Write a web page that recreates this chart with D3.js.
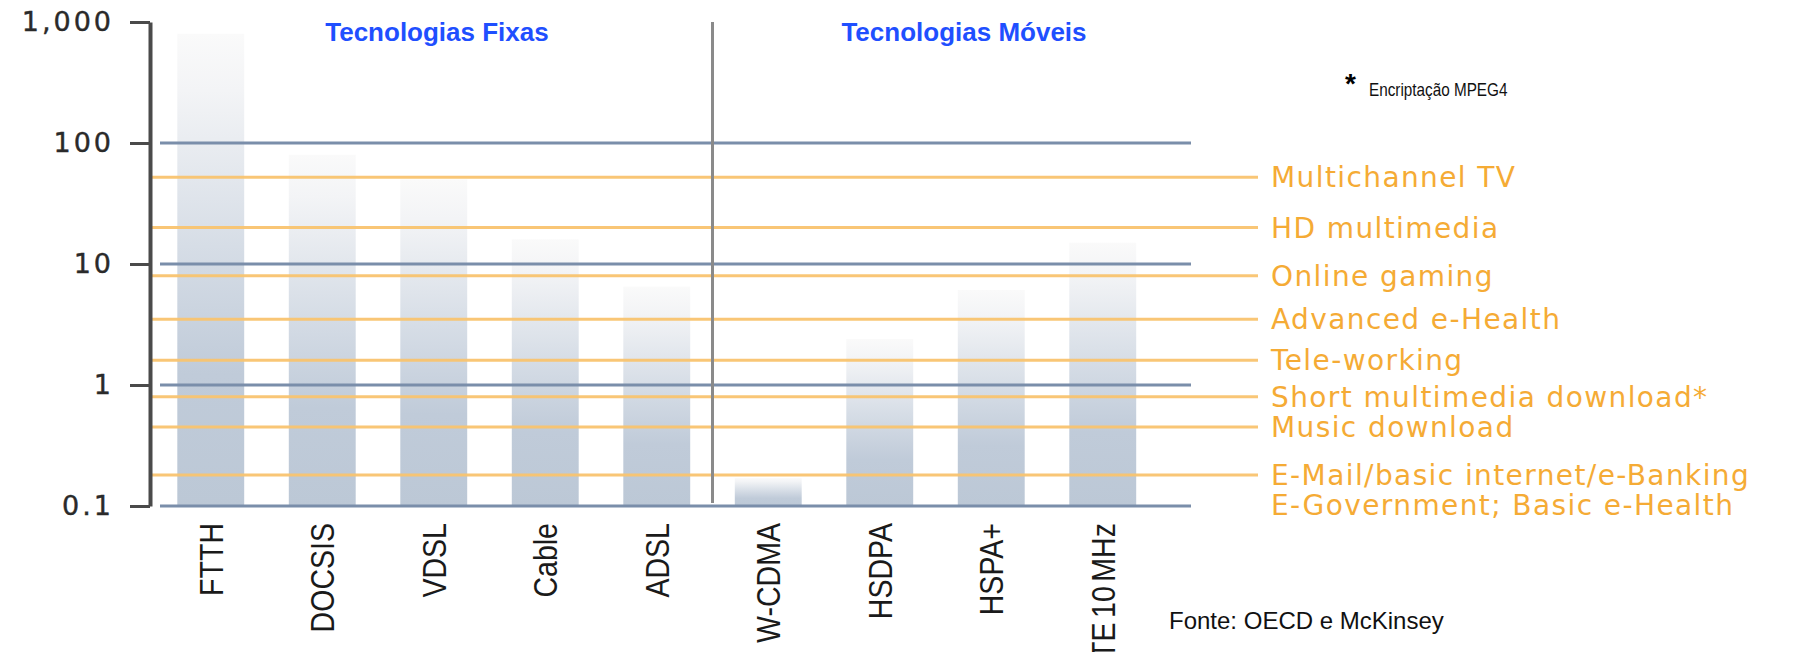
<!DOCTYPE html>
<html><head><meta charset="utf-8">
<script src="https://cdn.jsdelivr.net/npm/d3@7"></script>
<style>html,body{margin:0;padding:0;background:#fff;} svg{display:block}</style>
</head><body>
<svg id="chart" width="1809" height="652"></svg>
<script>
// ---- data ----
const categories = ["FTTH", "DOCSIS", "VDSL", "Cable", "ADSL", "W-CDMA", "HSDPA", "HSPA+", "LTE 10 MHz"];
const speeds = [800, 80, 50, 16, 6.5, 0.17, 2.4, 6.1, 15];
const fixedTechs = ["FTTH", "DOCSIS", "VDSL", "Cable", "ADSL"];
const mobileTechs = ["W-CDMA", "HSDPA", "HSPA+", "LTE 10 MHz"];
const groupTitles = ["Tecnologias Fixas", "Tecnologias Móveis"];
const tickValues = [1000, 100, 10, 1, 0.1];
const tickLabels = ["1,000", "100", "10", "1", "0.1"];
const services = ["Multichannel TV", "HD multimedia", "Online gaming", "Advanced e-Health", "Tele-working",
  "Short multimedia download*", "Music download", "E-Mail/basic internet/e-Banking"];
const serviceSecondLines = ["", "", "", "", "", "", "", "E-Government; Basic e-Health"];
const serviceSpeeds = [52, 20, 8, 3.5, 1.6, 0.8, 0.45, 0.18];
const footnoteMark = "*";
const footnoteText = "Encriptação MPEG4";
const sourceText = "Fonte: OECD e McKinsey";

// ---- layout ----
const svg = d3.select("#chart");
const axisX = 150, gridX0 = 160, gridX1 = 1191, orangeX1 = 1258;
const y = d3.scaleLog().domain([0.1, 1000]).range([506, 22]);
const x = d3.scaleBand().domain(categories).range([155, 1158.5]).paddingInner(0.4).paddingOuter(0.2);

const defs = svg.append("defs");
const grad = defs.append("linearGradient").attr("id", "barGrad")
  .attr("x1", 0).attr("y1", 0).attr("x2", 0).attr("y2", 1);
[[0, "#fafafa"], [0.12, "#f3f4f6"], [0.45, "#d6dde6"], [0.72, "#c0cbd9"], [1, "#bcc8d6"]]
  .forEach(([o, c]) => grad.append("stop").attr("offset", o).attr("stop-color", c));

// bars
svg.append("g").selectAll("rect").data(categories).join("rect")
  .attr("x", d => x(d))
  .attr("width", x.bandwidth())
  .attr("y", (d, i) => y(speeds[i]))
  .attr("height", (d, i) => y(0.1) - y(speeds[i]))
  .attr("fill", "url(#barGrad)");

// blue grid lines
svg.append("g").selectAll("line").data(tickValues.filter(v => v < 1000)).join("line")
  .attr("x1", gridX0).attr("x2", gridX1)
  .attr("y1", d => y(d)).attr("y2", d => y(d))
  .attr("stroke", "#7a8eaa").attr("stroke-width", 3);

// orange service lines
svg.append("g").selectAll("line").data(serviceSpeeds).join("line")
  .attr("x1", axisX).attr("x2", orangeX1)
  .attr("y1", d => y(d)).attr("y2", d => y(d))
  .attr("stroke", "#f9c46f").attr("stroke-width", 3).attr("opacity", 0.95);

// service labels
const sl = svg.append("g").attr("font-family", "DejaVu Sans, sans-serif")
  .attr("font-size", 28).attr("fill", "#f5ab35").attr("letter-spacing", 1.4);
services.forEach((s, i) => {
  sl.append("text").attr("x", 1271).attr("y", y(serviceSpeeds[i])).attr("dy", "0.36em").text(s);
  if (serviceSecondLines[i]) {
    sl.append("text").attr("x", 1271).attr("y", y(serviceSpeeds[i]) + 30).attr("dy", "0.36em").text(serviceSecondLines[i]);
  }
});

// y axis
const yAxis = d3.axisLeft(y).tickValues(tickValues)
  .tickFormat((d, i) => tickLabels[i]).tickSize(20).tickSizeOuter(0).tickPadding(16);
const ag = svg.append("g").attr("transform", `translate(${axisX},0)`).call(yAxis);
ag.select(".domain").attr("stroke", "#4a4a4a").attr("stroke-width", 4);
ag.selectAll(".tick line").attr("stroke", "#4a4a4a").attr("stroke-width", 3);
ag.selectAll(".tick text").attr("font-family", "DejaVu Sans, sans-serif").attr("font-size", 27)
  .attr("fill", "#2a2a2a").attr("letter-spacing", 3).attr("stroke", "#2a2a2a").attr("stroke-width", 0.4);

// category labels (rotated)
svg.append("g").selectAll("text").data(categories).join("text")
  .attr("transform", d => `translate(${x(d) + x.bandwidth() / 2},523) rotate(-90) scale(0.84,1)`)
  .attr("text-anchor", "end").attr("dy", "0.36em").attr("word-spacing", -4)
  .attr("font-family", "Liberation Sans, Arial, sans-serif").attr("font-size", 34)
  .attr("fill", "#1a1a1a").text(d => d);

// separator between fixed and mobile
const sepX = (x(fixedTechs[fixedTechs.length - 1]) + x.bandwidth() + x(mobileTechs[0])) / 2;
svg.append("line").attr("x1", sepX).attr("x2", sepX).attr("y1", 22).attr("y2", 503)
  .attr("stroke", "#8a8a8a").attr("stroke-width", 3);

// group titles
svg.append("g").selectAll("text").data(groupTitles).join("text")
  .attr("x", (d, i) => i === 0 ? 437 : 964).attr("y", 32).attr("dy", "0.36em")
  .attr("text-anchor", "middle").attr("font-family", "Liberation Sans, Arial, sans-serif")
  .attr("font-weight", "bold").attr("font-size", 26).attr("fill", "#1f4fff").text(d => d);

// footnote
svg.append("text").attr("x", 1345).attr("y", 93).attr("font-family", "Liberation Sans, Arial, sans-serif")
  .attr("font-size", 28).attr("font-weight", "bold").attr("fill", "#000").text(footnoteMark);
svg.append("text").attr("x", 1369).attr("y", 96).attr("font-family", "Liberation Sans, Arial, sans-serif")
  .attr("font-size", 18).attr("fill", "#111").attr("transform", "translate(1369,0) scale(0.85,1) translate(-1369,0)")
  .text(footnoteText);

// source
svg.append("text").attr("x", 1169).attr("y", 629).attr("font-family", "Liberation Sans, Arial, sans-serif")
  .attr("font-size", 24).attr("fill", "#111").text(sourceText);
</script>
</body></html>
